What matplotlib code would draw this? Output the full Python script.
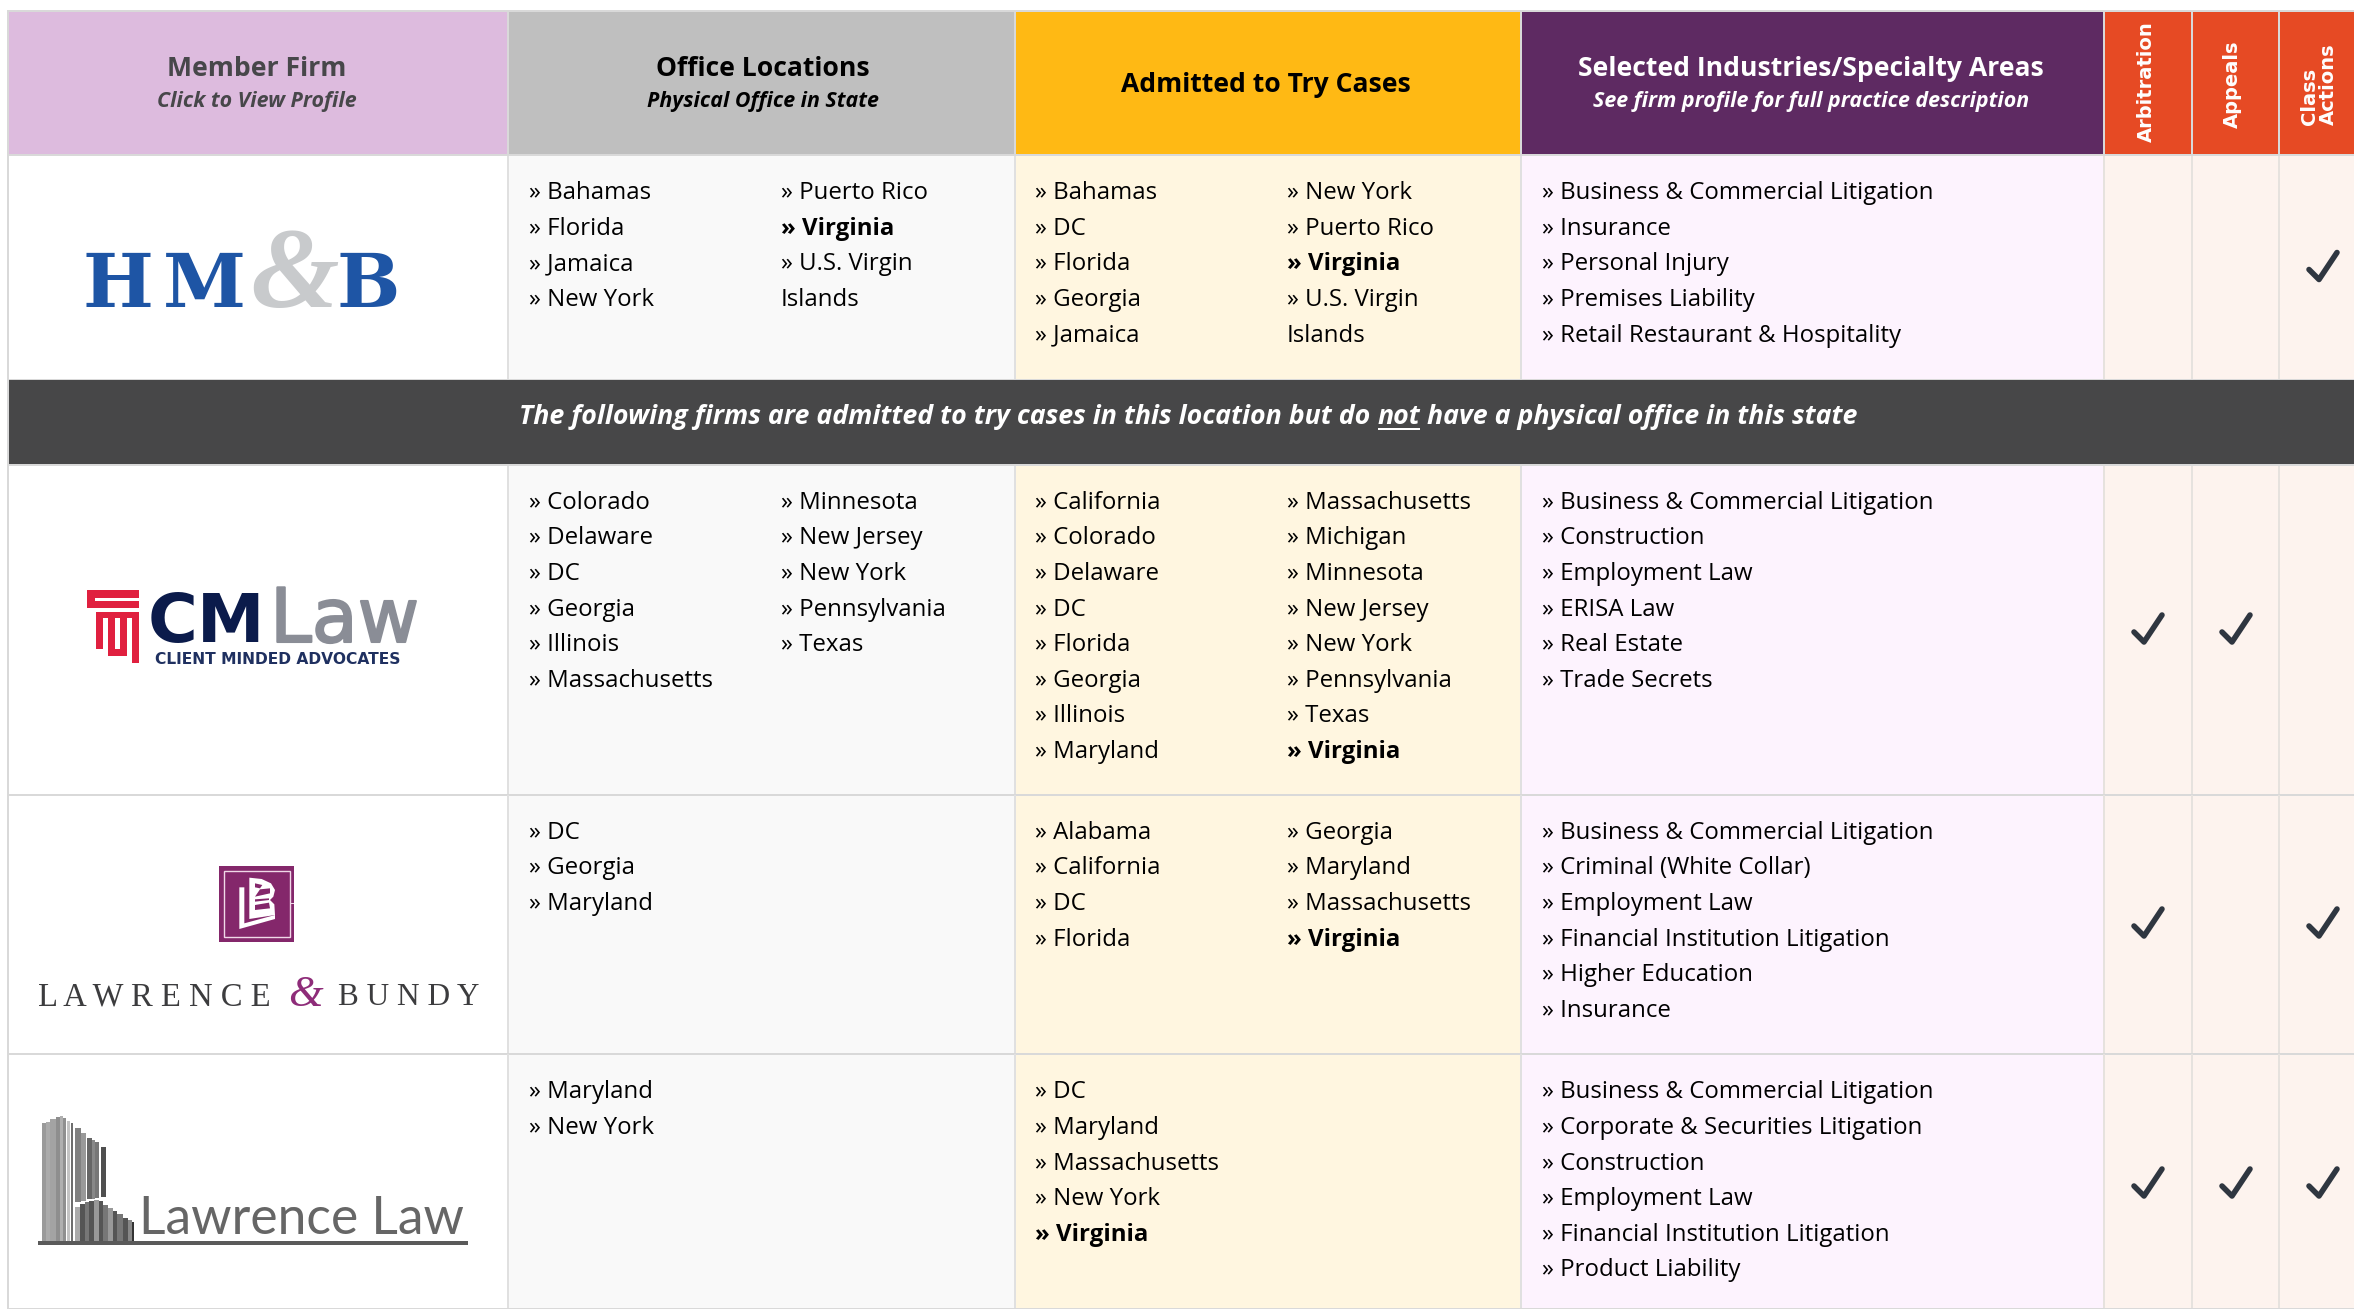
import matplotlib
matplotlib.use("Agg")
import matplotlib.pyplot as plt
from matplotlib.patches import Rectangle, Polygon
import matplotlib.patheffects as pe

# ---------- data ----------
headers = ["Member Firm", "Office Locations", "Admitted to Try Cases", "Selected Industries/Specialty Areas"]
subheaders = ["Click to View Profile", "Physical Office in State", "", "See firm profile for full practice description"]
service_headers = ["Arbitration", "Appeals", "Class\nActions"]
divider_parts = ["The following firms are admitted to try cases in this location but do ", "not", " have a physical office in this state"]

offices = [
    [["Bahamas", "Florida", "Jamaica", "New York"], ["Puerto Rico", "*Virginia", "U.S. Virgin", "~Islands"]],
    [["Colorado", "Delaware", "DC", "Georgia", "Illinois", "Massachusetts"], ["Minnesota", "New Jersey", "New York", "Pennsylvania", "Texas"]],
    [["DC", "Georgia", "Maryland"], []],
    [["Maryland", "New York"], []],
]
admitted = [
    [["Bahamas", "DC", "Florida", "Georgia", "Jamaica"], ["New York", "Puerto Rico", "*Virginia", "U.S. Virgin", "~Islands"]],
    [["California", "Colorado", "Delaware", "DC", "Florida", "Georgia", "Illinois", "Maryland"],
     ["Massachusetts", "Michigan", "Minnesota", "New Jersey", "New York", "Pennsylvania", "Texas", "*Virginia"]],
    [["Alabama", "California", "DC", "Florida"], ["Georgia", "Maryland", "Massachusetts", "*Virginia"]],
    [["DC", "Maryland", "Massachusetts", "New York", "*Virginia"], []],
]
areas = [
    ["Business & Commercial Litigation", "Insurance", "Personal Injury", "Premises Liability", "Retail Restaurant & Hospitality"],
    ["Business & Commercial Litigation", "Construction", "Employment Law", "ERISA Law", "Real Estate", "Trade Secrets"],
    ["Business & Commercial Litigation", "Criminal (White Collar)", "Employment Law", "Financial Institution Litigation", "Higher Education", "Insurance"],
    ["Business & Commercial Litigation", "Corporate & Securities Litigation", "Construction", "Employment Law", "Financial Institution Litigation", "Product Liability"],
]
services = [[0, 0, 1], [1, 1, 0], [1, 0, 1], [1, 1, 1]]

# ---------- layout ----------
W, H = 2354, 1309
col_x = [8, 508, 1015, 1521, 2104, 2192, 2279, W]
head_fill = ["#DDBBDE", "#BFBFBF", "#FFB914", "#5E2A62", "#E64A24", "#E64A24", "#E64A24"]
head_text = ["#47474A", "#000000", "#000000", "#FFFFFF"]
body_fill = ["#FFFFFF", "#F9F9F9", "#FFF6E0", "#FDF3FE", "#FDF3EE", "#FDF3EE", "#FDF3EE"]
row_y = [(155, 380), (465, 795), (795, 1054), (1054, 1309)]
baselines = [199.2, 508.8, 838.8, 1098.4]
check_y = [265.5, 628, 922, 1182]
pitch = 35.6
line = "#D9D9D9"
FS = 17.3
sans = "Open Sans"

fig = plt.figure(figsize=(W / 100, H / 100), dpi=100, facecolor="white")
ax = fig.add_axes([0, 0, 1, 1])
ax.set_xlim(0, W); ax.set_ylim(H, 0); ax.axis("off")


def box(x0, y0, x1, y1, c, z=1):
    ax.add_patch(Rectangle((x0, y0), x1 - x0, y1 - y0, fc=c, ec="none", zorder=z))


def label(x, y, s, **kw):
    kw.setdefault("family", sans)
    kw.setdefault("fontsize", FS)
    kw.setdefault("color", "black")
    kw.setdefault("va", "baseline")
    kw.setdefault("zorder", 5)
    return ax.text(x, y, s, **kw)


# header
box(7, 10, W, 156, line, 0)
for i, c in enumerate(head_fill):
    box(col_x[i] + 1, 12, col_x[i + 1] - 1 if i < 6 else W, 154, c)
centers = [257, 763, 1266, 1811]
for i in range(4):
    if subheaders[i]:
        label(centers[i], 76, headers[i], ha="center", fontsize=19.1, fontweight="bold", color=head_text[i])
        label(centers[i], 107, subheaders[i], ha="center", fontsize=15.4, fontweight="bold", style="italic", color=head_text[i])
    else:
        label(centers[i], 91.5, headers[i], ha="center", fontsize=19.1, fontweight="bold", color=head_text[i])
sv = dict(family="DejaVu Sans", rotation=90, ha="center", va="center", fontsize=14, fontweight="bold", color="white")
label(2146, 81.5, service_headers[0], **sv)
label(2232, 84, service_headers[1], **sv)
label(2319, 84, service_headers[2], linespacing=0.95, multialignment="left", **sv)

# body
for r, (y0, y1) in enumerate(row_y):
    for i, c in enumerate(body_fill):
        box(col_x[i], y0, col_x[i + 1], y1, c)
    for x in col_x[1:7]:
        box(x - 1, y0, x + 1, y1, "#E0E0E0" if x < 2104 else "#E6E2DE", 2)
    box(7, y1 - 1, W, y1 + 0.7, line, 2)
box(7, 12, 9, H, line, 3)
box(7, 154, W, 156, line, 3)

# divider
box(9, 380, W, 464, "#474748", 4)
box(7, 464, W, 466, line, 4)
fig.canvas.draw()
rend = fig.canvas.get_renderer()
x = 519
DIV = 19.25
for k, part in enumerate(divider_parts):
    label(x, 424, part, color="white", fontweight="bold", style="italic", fontsize=DIV)
    g = ax.text(0, 0, "|" + part + "|", family=sans, fontsize=DIV, fontweight="bold", style="italic")
    g0 = ax.text(0, 0, "||", family=sans, fontsize=DIV, fontweight="bold", style="italic")
    w = g.get_window_extent(rend).width - g0.get_window_extent(rend).width
    g.remove(); g0.remove()
    if k == 1:
        box(x + 1, 428, x + w, 430, "white", 5)
    x += w


def bullet_col(x, y, items):
    for j, it in enumerate(items):
        yy = y + j * pitch
        if it.startswith("*"):
            label(x, yy, "» " + it[1:], fontweight="bold")
        elif it.startswith("~"):
            label(x, yy, it[1:])
        else:
            label(x, yy, "» " + it)


tick_dx = [-13, -3, 15]
tick_dy = [4, 14, -13]
for r in range(4):
    b = baselines[r]
    bullet_col(529, b, offices[r][0]); bullet_col(781, b, offices[r][1])
    bullet_col(1035, b, admitted[r][0]); bullet_col(1287, b, admitted[r][1])
    bullet_col(1541.5, b, areas[r])
    for cx, on in zip((2147, 2235, 2322), services[r]):
        if on:
            ax.plot([cx + d for d in tick_dx], [check_y[r] + d for d in tick_dy], color="#2F3640", lw=4.0,
                    solid_capstyle="round", solid_joinstyle="round", zorder=5)

# ---------- logos ----------
# HM&B
SERB = "DejaVu Serif"
blue = "#1E55A5"
label(82, 307, "H", family=SERB, fontweight="bold", fontsize=54, color=blue)
label(163, 307, "M", family=SERB, fontweight="bold", fontsize=54, color=blue)
label(336, 307, "B", family=SERB, fontweight="bold", fontsize=54, color=blue)
label(295, 307, "&", family="Liberation Serif", fontweight="bold", style="italic", fontsize=82, color="#C8CACC", ha="center", zorder=6)

# CM Law icon
red = "#E0203F"
for (a, b, c, d) in [(87, 590, 139, 598), (87, 598, 95, 608), (87, 601, 139, 608), (96, 612, 139, 618), (96, 618, 103, 649),
                     (132, 618, 139, 663), (108, 618, 115, 656), (120, 618, 127, 656), (108, 649, 127, 656)]:
    box(a, b, c, d, red, 5)
label(148, 642, "CM", family="DejaVu Sans", fontweight="bold", fontsize=49, color="#0B1B4B")
label(270, 642, "Law", family="DejaVu Sans", fontsize=54, color="#8A8D96",
      path_effects=[pe.withStroke(linewidth=1.5, foreground="#8A8D96")])
label(155, 664, "CLIENT MINDED ADVOCATES", family="DejaVu Sans", fontweight="bold", fontsize=11.2, color="#1F3060")

# Lawrence & Bundy
plum = "#84276B"
box(219, 866, 294, 942, plum, 5)
ax.add_patch(Rectangle((224, 871), 66, 66, fc="none", ec="#F0D8E8", lw=1, zorder=6))
box(290, 902.5, 294, 904, "#F0D8E8", 7)


def zp(pts, ox=205, oy=855, c="white", z=7):
    ax.add_patch(Polygon([(ox + a / 3, oy + b / 3) for a, b in pts], closed=True, fc=c, ec="none", zorder=z))


zp([(103, 97), (118, 97), (118, 205), (210, 180), (210, 192), (103, 222)])
zp([(133, 68), (170, 72), (198, 85), (210, 105), (205, 125), (195, 135), (208, 148), (210, 180), (133, 192)])
zp([(150, 85), (172, 90), (165, 100), (150, 97)], c=plum, z=8)
zp([(165, 103), (195, 100), (195, 115), (150, 125)], c=plum, z=8)
zp([(150, 133), (192, 130), (192, 135), (150, 140)], c=plum, z=8)
zp([(150, 150), (192, 143), (195, 160), (150, 165)], c=plum, z=8)
label(38, 1005, "L A W R E N C E", family="Liberation Serif", fontsize=23.5, color="#3C3C3E")
label(305, 1006, "&", family="Liberation Serif", style="italic", fontsize=32, color="#8E2C79", ha="center")
label(338, 1005, "B U N D Y", family="Liberation Serif", fontsize=22.5, color="#3C3C3E")

upper = [(35, 48, 55, 410, "#9A9A9A"), (48, 60, 50, 410, "#ABABAB"), (60, 78, 42, 410, "#A3A3A3"), (78, 90, 35, 410, "#8E8E8E"),
         (90, 100, 32, 410, "#B0B0B0"), (100, 108, 38, 410, "#909090"), (112, 120, 48, 410, "#C4C4C4"), (122, 130, 55, 410, "#6E6E6E"),
         (136, 152, 70, 290, "#808080"), (152, 168, 85, 287, "#999999"), (170, 185, 98, 283, "#666666"), (185, 195, 105, 281, "#888888"),
         (195, 207, 110, 279, "#777777"), (212, 228, 125, 275, "#4F4F4F")]
lower = [(136, 150, 305, 410, "#AAAAAA"), (150, 165, 298, 410, "#555555"), (165, 178, 292, 410, "#777777"), (178, 192, 288, 410, "#555555"),
         (192, 207, 285, 410, "#999999"), (207, 220, 288, 410, "#555555"), (220, 235, 300, 410, "#777777"), (235, 248, 310, 410, "#999999"),
         (248, 262, 318, 410, "#555555"), (262, 278, 328, 410, "#777777"), (278, 293, 338, 410, "#555555"), (293, 305, 345, 410, "#888888"),
         (305, 313, 352, 410, "#333333")]
for a, b, t, u, g in upper + lower:
    box(30 + a / 3, 1105 + t / 3, 30 + b / 3, 1105 + u / 3, g, 5)
box(38, 1241, 468, 1245, "#5A5A5A", 6)
label(139, 1234, "Lawrence Law", family="Lato", fontsize=37.1, color="#666666")

fig.savefig("out.png", dpi=100, facecolor="white")
